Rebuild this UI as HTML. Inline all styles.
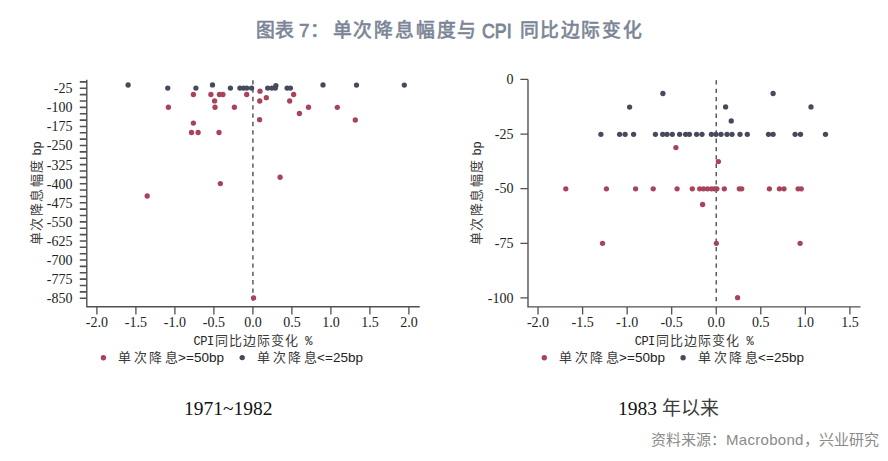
<!DOCTYPE html>
<html lang="zh-CN"><head><meta charset="utf-8">
<style>
html,body{margin:0;padding:0;background:#fff;width:888px;height:461px;overflow:hidden}
body{position:relative;font-family:"Liberation Sans",sans-serif}
.t{position:absolute;white-space:nowrap;line-height:1}
.tt{position:absolute;white-space:nowrap;line-height:1;top:22px;font-size:18.8px;color:#7b8596;-webkit-text-stroke:0.65px #7b8596}
svg{position:absolute;left:0;top:0}
svg text{font-family:"Liberation Serif",serif;font-size:14px;fill:#222}
.ylab .bp{font-family:"Liberation Sans",sans-serif;font-size:12px;letter-spacing:0.3px;color:#222;margin-left:-2px}
.ylab{position:absolute;font-family:"Liberation Serif",serif;font-size:13px;color:#3a3a3a;transform-origin:0 0;transform:rotate(-90deg);white-space:nowrap;letter-spacing:1.5px;line-height:1}
.xlab{position:absolute;font-family:"Liberation Mono",monospace;font-size:13px;color:#222;white-space:nowrap;line-height:1}
.xlab .m{font-size:12px;letter-spacing:-0.5px}
.xlab .cj{letter-spacing:1.1px;margin-left:1px;color:#3a3a3a}
.leg{position:absolute;font-family:"Liberation Sans",sans-serif;font-size:13.5px;color:#222;white-space:nowrap;line-height:1}
.leg .c{font-size:13px;letter-spacing:2.6px;margin-right:-2.3px;color:#3a3a3a}
.cap{position:absolute;font-family:"Liberation Serif",serif;font-size:19.5px;color:#111;white-space:nowrap;line-height:1}
#src{position:absolute;left:651px;top:431.5px;font-size:15px;color:#8a8a8a;white-space:nowrap;line-height:1}
</style></head><body>
<div class="tt" style="left:255.7px;letter-spacing:-0.1px">图表</div>
<div class="tt" style="left:299px;font-size:19px;top:21px">7：</div>
<div class="tt" style="left:332.6px;letter-spacing:1.8px">单次降息幅度与</div>
<div class="tt" style="left:481.5px;font-size:20px;top:20.5px;transform:scaleX(0.89);transform-origin:0 0;-webkit-text-stroke:0.85px #7b8596">CPI</div>
<div class="tt" style="left:519.6px;letter-spacing:1.6px">同比边际变化</div>
<svg width="888" height="461" viewBox="0 0 888 461">
<path d="M86.8 79.8V306.7H419.8" fill="none" stroke="#505050" stroke-width="1.4"/><path d="M79.8 81.90H86.8M79.8 88.26H86.8M79.8 94.62H86.8M79.8 100.99H86.8M79.8 107.35H86.8M79.8 113.71H86.8M79.8 120.08H86.8M79.8 126.44H86.8M79.8 132.80H86.8M79.8 139.16H86.8M79.8 145.53H86.8M79.8 151.89H86.8M79.8 158.25H86.8M79.8 164.61H86.8M79.8 170.98H86.8M79.8 177.34H86.8M79.8 183.70H86.8M79.8 190.06H86.8M79.8 196.43H86.8M79.8 202.79H86.8M79.8 209.15H86.8M79.8 215.51H86.8M79.8 221.88H86.8M79.8 228.24H86.8M79.8 234.60H86.8M79.8 240.96H86.8M79.8 247.32H86.8M79.8 253.69H86.8M79.8 260.05H86.8M79.8 266.41H86.8M79.8 272.77H86.8M79.8 279.14H86.8M79.8 285.50H86.8M79.8 291.86H86.8M79.8 298.23H86.8" stroke="#505050" stroke-width="1.6"/><path d="M96.90 306.7V314.4M135.90 306.7V314.4M174.90 306.7V314.4M213.90 306.7V314.4M252.90 306.7V314.4M291.90 306.7V314.4M330.90 306.7V314.4M369.90 306.7V314.4M408.90 306.7V314.4" stroke="#505050" stroke-width="1.3"/><text x="72.5" y="93.16" text-anchor="end">-25</text><text x="72.5" y="112.25" text-anchor="end">-100</text><text x="72.5" y="131.34" text-anchor="end">-175</text><text x="72.5" y="150.42" text-anchor="end">-250</text><text x="72.5" y="169.51" text-anchor="end">-325</text><text x="72.5" y="188.60" text-anchor="end">-400</text><text x="72.5" y="207.69" text-anchor="end">-475</text><text x="72.5" y="226.77" text-anchor="end">-550</text><text x="72.5" y="245.86" text-anchor="end">-625</text><text x="72.5" y="264.95" text-anchor="end">-700</text><text x="72.5" y="284.03" text-anchor="end">-775</text><text x="72.5" y="303.12" text-anchor="end">-850</text><text x="96.90" y="326.9" text-anchor="middle">-2.0</text><text x="135.90" y="326.9" text-anchor="middle">-1.5</text><text x="174.90" y="326.9" text-anchor="middle">-1.0</text><text x="213.90" y="326.9" text-anchor="middle">-0.5</text><text x="252.90" y="326.9" text-anchor="middle">0.0</text><text x="291.90" y="326.9" text-anchor="middle">0.5</text><text x="330.90" y="326.9" text-anchor="middle">1.0</text><text x="369.90" y="326.9" text-anchor="middle">1.5</text><text x="408.90" y="326.9" text-anchor="middle">2.0</text><path d="M252.9 80.2V301.2" stroke="#5a5a5a" stroke-width="1.5" stroke-dasharray="4.3 4.03"/><circle cx="128.1" cy="85.0" r="2.65" fill="#474a5c"/><circle cx="167.75" cy="88.1" r="2.65" fill="#474a5c"/><circle cx="195.9" cy="88.1" r="2.65" fill="#474a5c"/><circle cx="212.5" cy="84.9" r="2.65" fill="#474a5c"/><circle cx="230.4" cy="88.1" r="2.65" fill="#474a5c"/><circle cx="239.9" cy="88.1" r="2.65" fill="#474a5c"/><circle cx="243.5" cy="88.1" r="2.65" fill="#474a5c"/><circle cx="246.8" cy="88.1" r="2.65" fill="#474a5c"/><circle cx="251.6" cy="88.1" r="2.65" fill="#474a5c"/><circle cx="267.7" cy="88.1" r="2.65" fill="#474a5c"/><circle cx="271.8" cy="88.1" r="2.65" fill="#474a5c"/><circle cx="275.3" cy="88.1" r="2.65" fill="#474a5c"/><circle cx="275.9" cy="85.6" r="2.65" fill="#474a5c"/><circle cx="287.1" cy="88.1" r="2.65" fill="#474a5c"/><circle cx="290.4" cy="88.1" r="2.65" fill="#474a5c"/><circle cx="323" cy="84.9" r="2.65" fill="#474a5c"/><circle cx="356.5" cy="85.1" r="2.65" fill="#474a5c"/><circle cx="404.3" cy="85.1" r="2.65" fill="#474a5c"/><circle cx="168.4" cy="107.25" r="2.65" fill="#a8435a"/><circle cx="193.4" cy="94.5" r="2.65" fill="#a8435a"/><circle cx="210.9" cy="94.5" r="2.65" fill="#a8435a"/><circle cx="219.4" cy="94.5" r="2.65" fill="#a8435a"/><circle cx="222.9" cy="94.5" r="2.65" fill="#a8435a"/><circle cx="246.7" cy="94.5" r="2.65" fill="#a8435a"/><circle cx="214.6" cy="100.9" r="2.65" fill="#a8435a"/><circle cx="215" cy="107.25" r="2.65" fill="#a8435a"/><circle cx="234.4" cy="107.25" r="2.65" fill="#a8435a"/><circle cx="193.4" cy="123.1" r="2.65" fill="#a8435a"/><circle cx="191.5" cy="132.5" r="2.65" fill="#a8435a"/><circle cx="198.1" cy="132.5" r="2.65" fill="#a8435a"/><circle cx="219" cy="132.5" r="2.65" fill="#a8435a"/><circle cx="260" cy="91.2" r="2.65" fill="#a8435a"/><circle cx="266.3" cy="97.7" r="2.65" fill="#a8435a"/><circle cx="259.75" cy="101" r="2.65" fill="#a8435a"/><circle cx="289.7" cy="101" r="2.65" fill="#a8435a"/><circle cx="293.65" cy="94.5" r="2.65" fill="#a8435a"/><circle cx="299.4" cy="113.5" r="2.65" fill="#a8435a"/><circle cx="259.6" cy="119.7" r="2.65" fill="#a8435a"/><circle cx="308.5" cy="107.25" r="2.65" fill="#a8435a"/><circle cx="337.3" cy="107.3" r="2.65" fill="#a8435a"/><circle cx="355.3" cy="120" r="2.65" fill="#a8435a"/><circle cx="147.2" cy="196" r="2.65" fill="#a8435a"/><circle cx="220.35" cy="183.6" r="2.65" fill="#a8435a"/><circle cx="280.1" cy="177.25" r="2.65" fill="#a8435a"/><circle cx="253.6" cy="297.9" r="2.65" fill="#a8435a"/>
<path d="M528 79.4V306.9H860.5" fill="none" stroke="#505050" stroke-width="1.4"/><path d="M520.4 79.40H528M520.4 134.03H528M520.4 188.65H528M520.4 243.28H528M520.4 297.90H528" stroke="#505050" stroke-width="1.3"/><path d="M538.05 306.9V314.4M582.60 306.9V314.4M627.15 306.9V314.4M671.70 306.9V314.4M716.25 306.9V314.4M760.80 306.9V314.4M805.35 306.9V314.4M849.90 306.9V314.4" stroke="#505050" stroke-width="1.3"/><text x="513.5" y="84.00" text-anchor="end">0</text><text x="513.5" y="138.62" text-anchor="end">-25</text><text x="513.5" y="193.25" text-anchor="end">-50</text><text x="513.5" y="247.88" text-anchor="end">-75</text><text x="513.5" y="302.50" text-anchor="end">-100</text><text x="538.05" y="326.9" text-anchor="middle">-2.0</text><text x="582.60" y="326.9" text-anchor="middle">-1.5</text><text x="627.15" y="326.9" text-anchor="middle">-1.0</text><text x="671.70" y="326.9" text-anchor="middle">-0.5</text><text x="716.25" y="326.9" text-anchor="middle">0.0</text><text x="760.80" y="326.9" text-anchor="middle">0.5</text><text x="805.35" y="326.9" text-anchor="middle">1.0</text><text x="849.90" y="326.9" text-anchor="middle">1.5</text><path d="M716.25 80.3V301.2" stroke="#5a5a5a" stroke-width="1.5" stroke-dasharray="4.3 4.03"/><circle cx="662.9" cy="93.5" r="2.65" fill="#474a5c"/><circle cx="773.1" cy="93.5" r="2.65" fill="#474a5c"/><circle cx="629.6" cy="107.1" r="2.65" fill="#474a5c"/><circle cx="725.6" cy="106.9" r="2.65" fill="#474a5c"/><circle cx="811" cy="106.9" r="2.65" fill="#474a5c"/><circle cx="731.25" cy="120.9" r="2.65" fill="#474a5c"/><circle cx="600.9" cy="134.3" r="2.65" fill="#474a5c"/><circle cx="619.6" cy="134.3" r="2.65" fill="#474a5c"/><circle cx="625.1" cy="134.3" r="2.65" fill="#474a5c"/><circle cx="633.6" cy="134.3" r="2.65" fill="#474a5c"/><circle cx="655.4" cy="134.3" r="2.65" fill="#474a5c"/><circle cx="662.7" cy="134.3" r="2.65" fill="#474a5c"/><circle cx="667" cy="134.3" r="2.65" fill="#474a5c"/><circle cx="672.3" cy="134.3" r="2.65" fill="#474a5c"/><circle cx="679.6" cy="134.3" r="2.65" fill="#474a5c"/><circle cx="685.6" cy="134.3" r="2.65" fill="#474a5c"/><circle cx="689.4" cy="134.3" r="2.65" fill="#474a5c"/><circle cx="696.6" cy="134.3" r="2.65" fill="#474a5c"/><circle cx="702" cy="134.3" r="2.65" fill="#474a5c"/><circle cx="711.4" cy="134.3" r="2.65" fill="#474a5c"/><circle cx="716" cy="134.3" r="2.65" fill="#474a5c"/><circle cx="721" cy="134.3" r="2.65" fill="#474a5c"/><circle cx="727" cy="134.3" r="2.65" fill="#474a5c"/><circle cx="732" cy="134.3" r="2.65" fill="#474a5c"/><circle cx="740" cy="134.3" r="2.65" fill="#474a5c"/><circle cx="747.3" cy="134.3" r="2.65" fill="#474a5c"/><circle cx="768.5" cy="134.3" r="2.65" fill="#474a5c"/><circle cx="773.1" cy="134.3" r="2.65" fill="#474a5c"/><circle cx="795.1" cy="134.3" r="2.65" fill="#474a5c"/><circle cx="800.5" cy="134.3" r="2.65" fill="#474a5c"/><circle cx="825.5" cy="134.3" r="2.65" fill="#474a5c"/><circle cx="675.9" cy="147.6" r="2.65" fill="#a8435a"/><circle cx="718.4" cy="161.6" r="2.65" fill="#a8435a"/><circle cx="702.6" cy="204.5" r="2.65" fill="#a8435a"/><circle cx="602.5" cy="243.3" r="2.65" fill="#a8435a"/><circle cx="716.35" cy="243.3" r="2.65" fill="#a8435a"/><circle cx="800.1" cy="243.3" r="2.65" fill="#a8435a"/><circle cx="737.6" cy="297.7" r="2.65" fill="#a8435a"/><circle cx="565.8" cy="188.8" r="2.65" fill="#a8435a"/><circle cx="606.4" cy="188.8" r="2.65" fill="#a8435a"/><circle cx="635.6" cy="188.8" r="2.65" fill="#a8435a"/><circle cx="653.2" cy="188.8" r="2.65" fill="#a8435a"/><circle cx="677.1" cy="188.8" r="2.65" fill="#a8435a"/><circle cx="692.3" cy="188.8" r="2.65" fill="#a8435a"/><circle cx="699.7" cy="188.8" r="2.65" fill="#a8435a"/><circle cx="703.5" cy="188.8" r="2.65" fill="#a8435a"/><circle cx="707.5" cy="188.8" r="2.65" fill="#a8435a"/><circle cx="711.5" cy="188.8" r="2.65" fill="#a8435a"/><circle cx="714.5" cy="188.8" r="2.65" fill="#a8435a"/><circle cx="716.9" cy="188.8" r="2.65" fill="#a8435a"/><circle cx="724.3" cy="188.8" r="2.65" fill="#a8435a"/><circle cx="739.3" cy="188.8" r="2.65" fill="#a8435a"/><circle cx="741.7" cy="188.8" r="2.65" fill="#a8435a"/><circle cx="769.4" cy="188.8" r="2.65" fill="#a8435a"/><circle cx="779.4" cy="188.8" r="2.65" fill="#a8435a"/><circle cx="784" cy="188.8" r="2.65" fill="#a8435a"/><circle cx="798.1" cy="188.8" r="2.65" fill="#a8435a"/><circle cx="801.25" cy="188.8" r="2.65" fill="#a8435a"/>
<circle cx="103.4" cy="357.7" r="2.7" fill="#a8435a"/>
<circle cx="242.2" cy="357.6" r="2.7" fill="#474a5c"/>
<circle cx="544.3" cy="357.7" r="2.7" fill="#a8435a"/>
<circle cx="683.1" cy="357.8" r="2.7" fill="#474a5c"/>
</svg>
<div class="ylab" style="left:30px;top:245px">单次降息幅度 <span class="bp">bp</span></div>
<div class="ylab" style="left:470px;top:245px">单次降息幅度 <span class="bp">bp</span></div>
<div class="xlab" style="left:193.5px;top:335px"><span class="m">CPI</span><span class="cj">同比边际变化</span><span class="m" style="margin-left:6px">%</span></div>
<div class="xlab" style="left:634.7px;top:335px"><span class="m">CPI</span><span class="cj">同比边际变化</span><span class="m" style="margin-left:6px">%</span></div>
<div class="leg" style="left:118px;top:351px"><span class="c">单次降息</span>&gt;=50bp</div>
<div class="leg" style="left:257px;top:351px"><span class="c">单次降息</span>&lt;=25bp</div>
<div class="leg" style="left:559px;top:351px"><span class="c">单次降息</span>&gt;=50bp</div>
<div class="leg" style="left:698px;top:351px"><span class="c">单次降息</span>&lt;=25bp</div>
<div class="cap" style="left:184px;top:399px">1971~1982</div>
<div class="cap" style="left:618px;top:399px">1983 <span style="color:#3c3c3c;font-size:19px;letter-spacing:0.3px">年以来</span></div>
<div id="src">资料来源：<span style="letter-spacing:0.3px">Macrobond</span>，兴业研究</div>
</body></html>
